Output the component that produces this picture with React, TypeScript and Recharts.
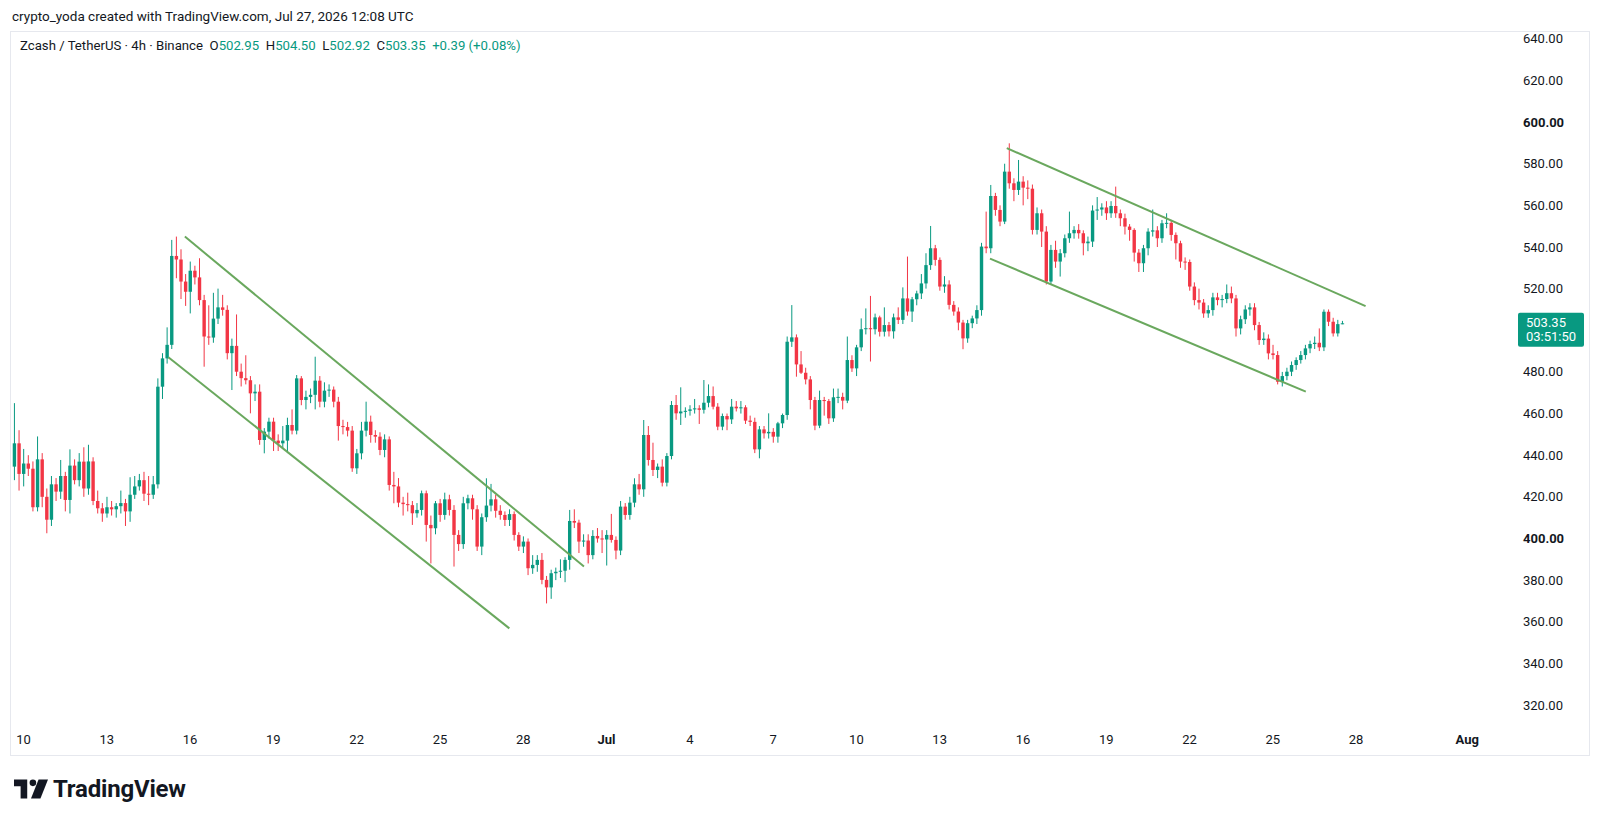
import React from "react";
import { ComposedChart, Bar, XAxis, YAxis, ReferenceLine } from "recharts";

// 4h candles, [open, high, low, close], first one opens Jun 9 16:00 UTC
const candles: [number, number, number, number][] = [
  [434.5, 465, 428, 445.7], [445.7, 452, 423, 431], [431, 443, 425, 436], [436, 440, 430, 433.5],
  [433.5, 437, 413, 415], [415, 449, 413, 438], [438, 441, 415, 420], [420, 424, 402.5, 409],
  [409, 430, 406, 426], [426, 429, 418, 422.5], [422.5, 437.7, 419, 430], [430, 432, 413, 418.5],
  [418.5, 442.8, 412, 435], [435, 438, 426, 428], [428, 441, 425, 436.9], [436.9, 443.8, 420, 424],
  [424, 445, 421, 437], [437, 439, 416, 418], [418, 423, 412, 414.5], [414.5, 417, 408, 412],
  [412, 420, 410, 415], [415, 418, 411, 414], [414, 417, 410, 415.5], [415.5, 423, 412, 417],
  [417, 419, 406, 413], [413, 429.4, 408, 421], [421, 430, 419, 425], [425, 431, 423, 428],
  [428, 432, 418, 421.5], [421.5, 430, 416, 421], [421, 430, 419, 426], [426, 476.9, 424, 472.9],
  [472.9, 489, 467, 486.5], [486.5, 501.4, 484, 493], [493, 543.4, 491, 535.7], [535.7, 545, 525, 534],
  [534, 538.9, 515, 523.4], [523.4, 527, 511.7, 518.5], [518.5, 533, 508.1, 528.6], [528.6, 531, 522, 525.4],
  [525.4, 534.6, 512, 514.5], [514.5, 517, 482.5, 497], [497, 512, 493, 496.5], [496.5, 518, 494, 505.6],
  [505.6, 520, 503, 511], [511, 517, 507, 509.8], [509.8, 512, 486, 489], [489, 496, 471.3, 492.5],
  [492.5, 507.6, 478, 480.1], [480.1, 484, 473, 477], [477, 488, 474, 476], [476, 478, 460.1, 469.7],
  [469.7, 474, 466, 470.5], [470.5, 474, 445, 447.3], [447.3, 453, 440.9, 451.3], [451.3, 458, 448, 456.1],
  [456.1, 458, 442, 447], [447, 450, 442, 445.7], [445.7, 454, 443, 447], [447, 458, 441, 454.5],
  [454.5, 462, 450, 451.8], [451.8, 478.5, 450, 476.9], [476.9, 478, 464, 466.5], [466.5, 471, 462, 468],
  [468, 472, 465, 469], [469, 487.3, 462, 475.8], [475.8, 478, 463, 465.7], [465.7, 475, 463, 471],
  [471, 474, 468, 471.5], [471.5, 473, 463, 465.7], [465.7, 468, 447, 454], [454, 457, 450, 453.5],
  [453.5, 456, 449, 451.8], [451.8, 454, 432, 433.7], [433.7, 443, 431, 440.9], [440.9, 456, 438, 451.8],
  [451.8, 465.7, 449, 456.1], [456.1, 459, 446, 449.7], [449.7, 452, 446, 448.9], [448.9, 451, 440, 442.5],
  [442.5, 450, 439, 447.6], [447.6, 449, 423, 425.7], [425.7, 432, 416.9, 425], [425, 429, 415, 417.2],
  [417.2, 420, 411, 416.5], [416.5, 422, 413, 416], [416, 418, 406.5, 412.1], [412.1, 417, 410, 413.7],
  [413.7, 423, 411, 421.7], [421.7, 423, 398.5, 406.5], [406.5, 411, 388, 404.9], [404.9, 418, 402, 416.9],
  [416.9, 419, 408, 411.3], [411.3, 422, 409, 418.8], [418.8, 421, 411, 413.7], [413.7, 416, 386.5, 401.7],
  [401.7, 404, 394, 397.3], [397.3, 420, 395, 416.9], [416.9, 421, 414, 419.3], [419.3, 421, 409, 414],
  [414, 416, 394, 396.1], [396.1, 412, 392, 410.2], [410.2, 428.9, 408, 415.8], [415.8, 426.2, 413, 418.8],
  [418.8, 421, 410, 413.3], [413.3, 416, 409, 411.3], [411.3, 413, 406, 408.9], [408.9, 414, 406, 411.7],
  [411.7, 413, 399, 401.7], [401.7, 403, 394, 396.1], [396.1, 401, 393, 398.5], [398.5, 400, 382.4, 385.7],
  [385.7, 392, 383, 387.3], [387.3, 392, 384, 389.7], [389.7, 393, 378, 380.1], [380.1, 382, 368.8, 376.5],
  [376.5, 385, 371, 383.3], [383.3, 386, 380, 384], [384, 390, 381, 384.5], [384.5, 391, 379, 389.7],
  [389.7, 413.7, 385, 408.4], [408.4, 414, 405, 407.6], [407.6, 409, 393, 398.5], [398.5, 402, 396, 399],
  [399, 402, 388, 392], [392, 404, 390, 401.2], [401.2, 405, 398, 400], [400, 404, 393, 399.5],
  [399.5, 404, 387, 401.7], [401.7, 411.8, 398, 399.3], [399.3, 401, 390, 394.2], [394.2, 418, 392, 415.3],
  [415.3, 417, 409, 411.3], [411.3, 420, 409, 417.2], [417.2, 428.9, 415, 426], [426, 431, 421, 423.6],
  [423.6, 456.9, 420, 449.7], [449.7, 454, 435, 437.7], [437.7, 446, 430, 432.9], [432.9, 436, 429, 434.5],
  [434.5, 438, 425, 426.8], [426.8, 441, 425, 439.6], [439.6, 466, 438, 464.1], [464.1, 468.9, 457, 460.1],
  [460.1, 472.6, 454.5, 461], [461, 463, 458, 461.3], [461.3, 464, 459, 462], [462, 467, 460, 462.5],
  [462.5, 464, 455, 461.8], [461.8, 476.1, 460, 465.2], [465.2, 474, 463, 468.4], [468.4, 473, 462, 463.3],
  [463.3, 465, 452, 453.7], [453.7, 460, 452, 458.8], [458.8, 460, 452, 457.2], [457.2, 467, 455, 463.3],
  [463.3, 466, 461, 462.5], [462.5, 466, 460, 463], [463, 464, 455, 456.6], [456.6, 459, 454, 456],
  [456, 458, 441, 442.8], [442.8, 454, 438.5, 452.4], [452.4, 454, 448, 450.5], [450.5, 460.1, 448, 451.2],
  [451.2, 453, 446, 448.9], [448.9, 456, 446, 455.3], [455.3, 460, 453, 459.3], [459.3, 497, 457, 494.5],
  [494.5, 512.1, 492, 496.6], [496.6, 498, 477.7, 483.6], [483.6, 490, 479, 479.6], [479.6, 482, 474, 476.4],
  [476.4, 478, 462, 466.5], [466.5, 468, 452, 454.2], [454.2, 471, 453, 466.5], [466.5, 468, 459, 466],
  [466, 467, 455, 457.7], [457.7, 472, 456, 467.8], [467.8, 472, 465, 468], [468, 470, 462, 466.2],
  [466.2, 497, 465, 485.7], [485.7, 488, 480, 481.7], [481.7, 493, 478, 491.8], [491.8, 505.7, 490, 500.5],
  [500.5, 510.5, 498, 501], [501, 516.5, 485, 500.5], [500.5, 508, 498, 506.2], [506.2, 507, 497, 499.3],
  [499.3, 511, 497, 502.5], [502.5, 504, 497, 499.5], [499.5, 508, 496, 506.2], [506.2, 511, 503, 505],
  [505, 520.6, 503, 515.3], [515.3, 535.4, 507, 509], [509, 516, 504, 514.9], [514.9, 519, 512, 517.7],
  [517.7, 527, 515, 522.5], [522.5, 537, 520, 531.3], [531.3, 550.1, 529, 539.4], [539.4, 541, 531, 533.8],
  [533.8, 535, 519, 521], [521, 526, 518, 522], [522, 524, 510, 512.2], [512.2, 514, 507, 509],
  [509, 511, 500, 503.7], [503.7, 505, 490.9, 496.1], [496.1, 505, 494, 503.4], [503.4, 507, 501, 505.7],
  [505.7, 512, 503, 509.7], [509.7, 542, 507, 540.2], [540.2, 557, 537, 539.4], [539.4, 569.8, 537, 564.5],
  [564.5, 566, 555, 557.8], [557.8, 560, 550, 552.2], [552.2, 580, 551, 576.2], [576.2, 589.8, 568, 570.6],
  [570.6, 573, 562, 567.4], [567.4, 581.8, 565, 571.4], [571.4, 574, 560, 568.5], [568.5, 572, 563, 568],
  [568, 570, 546, 548.2], [548.2, 559, 546, 556.2], [556.2, 558, 540, 547.4], [547.4, 550, 522, 523.4],
  [523.4, 541, 522, 538.6], [538.6, 543, 530, 533], [533, 539, 525.8, 537], [537, 546, 535, 544.2],
  [544.2, 557, 542, 546.6], [546.6, 550, 544, 548.2], [548.2, 551, 544, 546.6], [546.6, 548, 536, 541.8],
  [541.8, 545, 538, 542.6], [542.6, 560, 540, 557.5], [557.5, 564, 553, 558], [558, 561, 555, 559],
  [559, 562, 553, 556.2], [556.2, 562, 554, 559.7], [559.7, 569, 554, 556.2], [556.2, 558, 550, 553.8],
  [553.8, 556, 546, 549.8], [549.8, 551, 543, 548.2], [548.2, 549, 533, 537.3], [537.3, 539, 528, 532.2],
  [532.2, 541, 528, 539.4], [539.4, 549, 536, 547.4], [547.4, 558, 545, 548], [548, 550, 540, 544.2],
  [544.2, 553, 542, 551.4], [551.4, 556.2, 549, 551.6], [551.6, 553, 543, 545.8], [545.8, 547, 534, 541.8],
  [541.8, 543, 530, 533], [533, 535, 529, 532.8], [532.8, 534, 519, 521], [521, 523, 512, 514.5],
  [514.5, 520, 510, 513.3], [513.3, 515, 506, 508.1], [508.1, 512, 506, 509.7], [509.7, 518, 507, 515.8],
  [515.8, 518, 512, 514.5], [514.5, 517, 511, 515], [515, 522, 513, 517.8], [517.8, 521, 513, 515.3],
  [515.3, 517, 497, 500.9], [500.9, 507, 498, 505.3], [505.3, 512, 503, 510], [510, 513, 507, 511],
  [511, 513, 500, 502.5], [502.5, 504, 493, 495.3], [495.3, 499, 493, 496], [496, 498, 486, 488.9],
  [488.9, 493, 486, 488.1], [488.1, 490, 474, 475.3], [475.3, 480, 473, 478], [478, 482, 476, 480.1],
  [480.1, 485, 478, 483.3], [483.3, 487, 481, 485.7], [485.7, 490, 484, 488.1], [488.1, 493, 486, 491.3],
  [491.3, 495, 489, 493.4], [493.4, 497, 491, 494], [494, 500.9, 490, 491.8], [491.8, 510, 490, 508.9],
  [508.9, 510, 502, 504.1], [504.1, 506, 497, 498.5], [498.5, 505, 497, 502.95], [502.95, 504.5, 502.92, 503.35],
];

const firstCandle = Date.UTC(2026, 5, 9, 16);
const origin = Date.UTC(2026, 5, 10);
const DAY = 86400000;
const STEP = 4 * 3600000;

const tickDates = [
  "2026-06-10", "2026-06-13", "2026-06-16", "2026-06-19", "2026-06-22", "2026-06-25", "2026-06-28",
  "2026-07-01", "2026-07-04", "2026-07-07", "2026-07-10", "2026-07-13", "2026-07-16", "2026-07-19",
  "2026-07-22", "2026-07-25", "2026-07-28", "2026-08-01",
];
const tickLabels = ["10", "13", "16", "19", "22", "25", "28", "Jul", "4", "7", "10", "13", "16", "19", "22", "25", "28", "Aug"];
const boldTicks = ["Jul", "Aug"];

// 500.00 sits under the last-price tag, so it is not shown
const priceTicks = [320, 340, 360, 380, 400, 420, 440, 460, 480, 520, 540, 560, 580, 600, 620, 640];
const boldPrices = [400, 600];

// drawn channel lines: [startDate, startPrice, endDate, endPrice]
const channels: [string, number, string, number][] = [
  ["2026-06-15T19:30", 545, "2026-06-30T04:30", 386.5],
  ["2026-06-15T05:15", 487, "2026-06-27T12:00", 356.8],
  ["2026-07-15T10:00", 587.5, "2026-07-28T08:10", 511.6],
  ["2026-07-14T19:30", 534.4, "2026-07-26T04:30", 470.5],
];

const legend = { symbol: "Zcash / TetherUS · 4h · Binance", o: "502.95", h: "504.50", l: "502.92", c: "503.35", change: "+0.39 (+0.08%)" };
const countdown = "03:51:50";

const UP = "#089981";
const DOWN = "#f23645";
const FONT = "Roboto, 'Liberation Sans', sans-serif";

const toDay = (iso: string) => (Date.parse(iso + (iso.length > 10 ? ":00Z" : "T00:00:00Z")) - origin) / DAY;

const rows = candles.map(([open, high, low, close], i) => ({
  t: (firstCandle + i * STEP - origin) / DAY,
  open,
  high,
  low,
  close,
  range: [low, high],
}));

const Candle = (props: any) => {
  const { x, y, width, height, payload } = props;
  if (x == null || payload == null) return null;
  const { open, high, low, close } = payload;
  const cx = x + width / 2;
  const top = Math.min(y, y + height);
  const h = Math.abs(height);
  const k = high > low ? h / (high - low) : 0;
  const yOf = (v: number) => top + (high - v) * k;
  const color = close >= open ? UP : DOWN;
  const bTop = yOf(Math.max(open, close));
  const bH = Math.max(1, yOf(Math.min(open, close)) - bTop);
  return (
    <g>
      <line x1={cx} x2={cx} y1={top} y2={top + h} stroke={color} strokeWidth={1} />
      <rect x={cx - 1.7} y={bTop} width={3.4} height={bH} fill={color} />
    </g>
  );
};

const PriceTick = (props: any) => {
  const { x, y, payload } = props;
  const v = payload.value as number;
  return (
    <text x={x} y={y} dx={7} dy="0.35em" textAnchor="start" fontSize={13} fontFamily={FONT}
      fontWeight={boldPrices.includes(v) ? 700 : 400} fill="#131722">
      {v.toFixed(2)}
    </text>
  );
};

const TimeTick = (props: any) => {
  const { x, y, index } = props;
  const label = tickLabels[index] ?? "";
  return (
    <text x={x} y={y} dy="0.71em" dx={0} transform="translate(0,2)" textAnchor="middle" fontSize={13} fontFamily={FONT}
      fontWeight={boldTicks.includes(label) ? 700 : 400} fill="#131722">
      {label}
    </text>
  );
};

const PriceTag = (props: any) => {
  const vb = props.viewBox;
  if (!vb) return null;
  const left = vb.x + vb.width + 10;
  const y = vb.y;
  return (
    <g>
      <rect x={left} y={y - 10.5} width={66} height={34} rx={2} fill={UP} />
      <text x={left + 8} y={y + 1} fontSize={13} fontFamily={FONT} fill="#fff" dy="0.2em">{legend.c}</text>
      <text x={left + 8} y={y + 15} fontSize={13} fontFamily={FONT} fill="#fff" dy="0.2em">{countdown}</text>
    </g>
  );
};

export default function App() {
  const lastClose = candles[candles.length - 1][3];
  const green = { color: UP };
  return (
    <div style={{ position: "absolute", left: 0, top: 0, width: 1600, height: 820, background: "#fff", fontFamily: FONT, color: "#131722", overflow: "hidden" }}>
      <div style={{ position: "absolute", left: 12, top: 8, fontSize: 13.5 }}>
        crypto_yoda created with TradingView.com, Jul 27, 2026 12:08 UTC
      </div>
      <div style={{ position: "absolute", left: 10, top: 31, width: 1578, height: 723, border: "1px solid #e6e8ee" }} />
      <div style={{ position: "absolute", left: 20, top: 38, fontSize: 13.2, whiteSpace: "pre" }}>
        {legend.symbol}{"  "}O<span style={green}>{legend.o}</span>{"  "}H<span style={green}>{legend.h}</span>{"  "}L
        <span style={green}>{legend.l}</span>{"  "}C<span style={green}>{legend.c}</span>{"  "}
        <span style={green}>{legend.change}</span>
      </div>
      <div style={{ position: "absolute", left: 0, top: 0 }}>
        <ComposedChart width={1600} height={820} data={rows} margin={{ top: 32, right: 12, bottom: 65, left: 12 }}>
          <XAxis dataKey="t" type="number" domain={[-0.414, 53.47]} allowDataOverflow ticks={tickDates.map(toDay)}
            tick={<TimeTick />} tickLine={false} axisLine={false} height={30} interval={0} />
          <YAxis type="number" orientation="right" domain={[310.4, 643.27]} allowDataOverflow ticks={priceTicks}
            tick={<PriceTick />} tickLine={false} axisLine={false} width={80} interval={0} />
          <Bar dataKey="range" shape={<Candle />} barSize={3} isAnimationActive={false} />
          {channels.map(([d1, p1, d2, p2], i) => (
            <ReferenceLine key={i} segment={[{ x: toDay(d1), y: p1 }, { x: toDay(d2), y: p2 }]}
              stroke="#6aa85e" strokeWidth={2} ifOverflow="visible" />
          ))}
          <ReferenceLine y={lastClose} stroke="none" label={<PriceTag />} ifOverflow="visible" />
        </ComposedChart>
      </div>
      <div style={{ position: "absolute", left: 14, top: 775, display: "flex", alignItems: "center" }}>
        <svg width={34} height={20} viewBox="0 0 36 20">
          <path d="M0 0h14v20H7V7H0z" fill="#131722" />
          <circle cx={20} cy={3.5} r={3.5} fill="#131722" />
          <path d="M26 0h10l-8 20h-10z" fill="#131722" />
        </svg>
        <span style={{ marginLeft: 5, fontSize: 24, fontWeight: 700, letterSpacing: -0.2 }}>TradingView</span>
      </div>
    </div>
  );
}
